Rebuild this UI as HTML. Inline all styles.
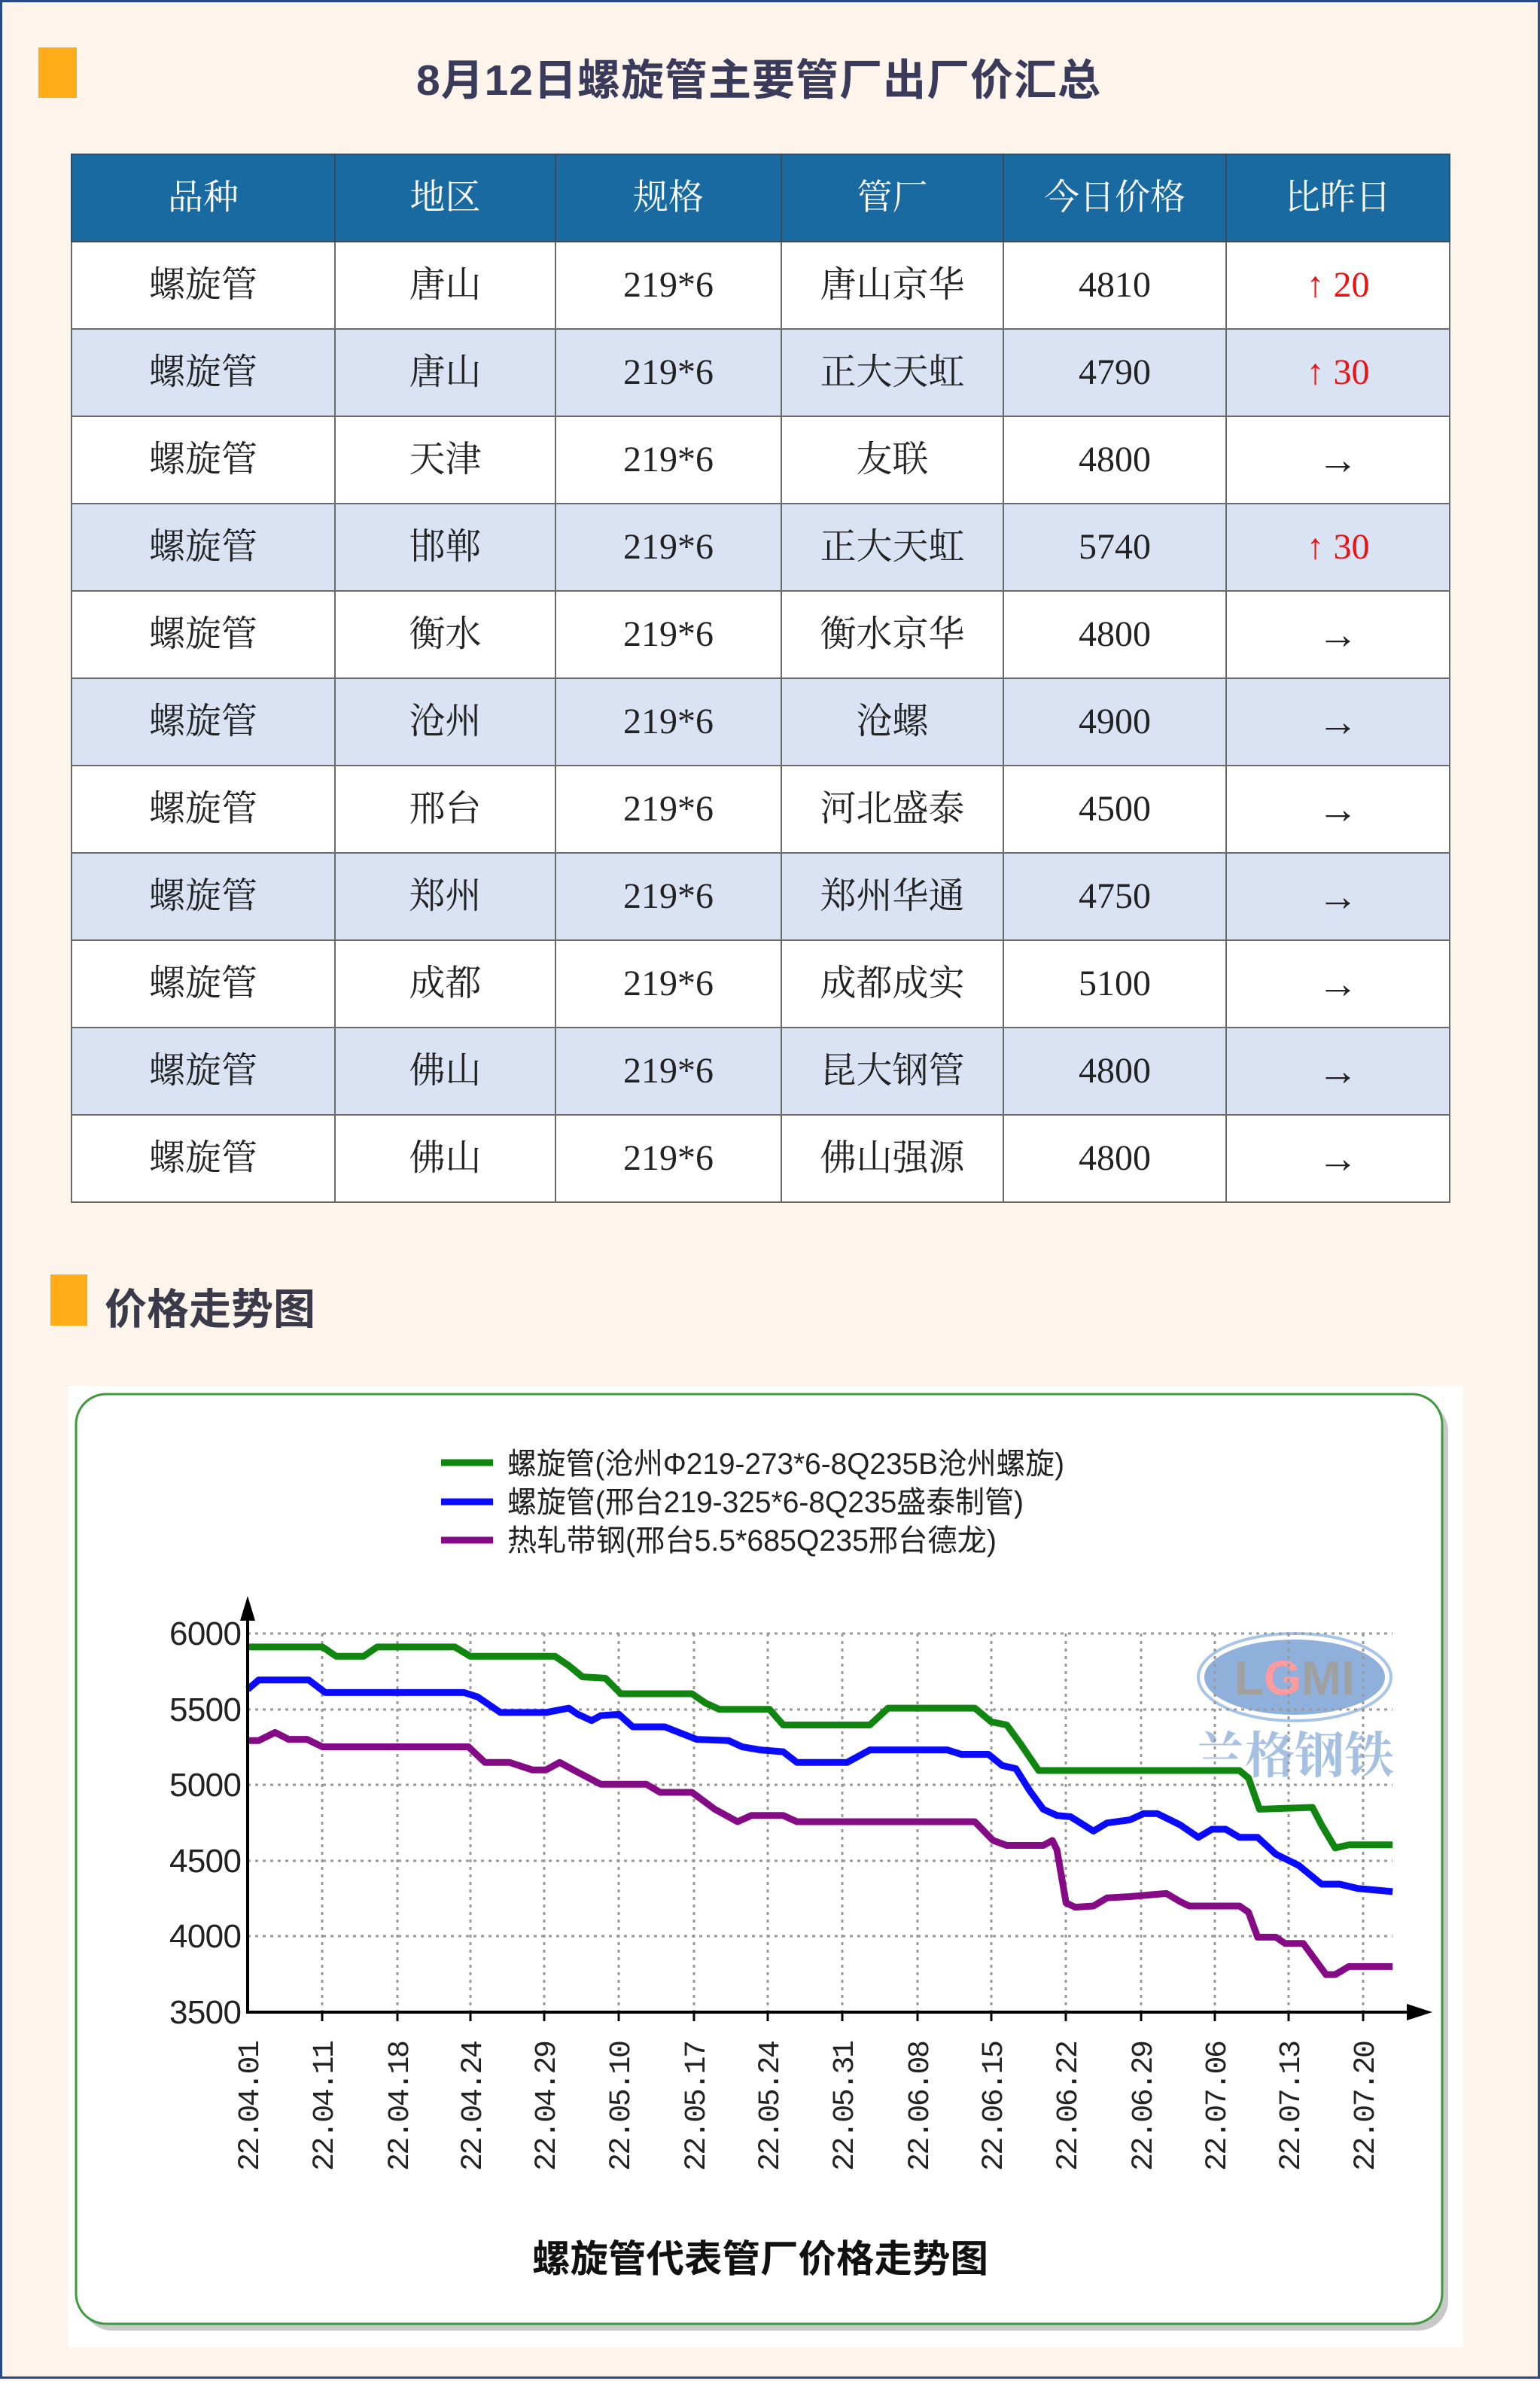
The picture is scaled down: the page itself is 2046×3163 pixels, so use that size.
<!DOCTYPE html>
<html><head><meta charset="utf-8">
<style>
html,body{margin:0;padding:0}
body{width:2046px;height:3160px;background:#fdf5eb;position:relative;overflow:hidden;box-sizing:border-box;border:3px solid #2b4a8a;font-family:"Liberation Serif","Noto Serif CJK SC",serif}
.bar{position:absolute;background:#ffac18}
.title{position:absolute;left:0;width:2010px;top:58px;text-align:center;font:bold 57px "Liberation Sans","Noto Sans CJK SC",sans-serif;color:#3a3a5a;letter-spacing:1px}
table{position:absolute;left:91px;top:201px;border-collapse:collapse;width:1831px;table-layout:fixed}
td,th{border:2px solid #6a6a6a;text-align:center;font-size:48px;line-height:1;color:#222;padding:0;font-weight:normal;overflow:hidden}
th{background:#1a6aa2;color:#fff;height:114px;border-color:#3a4a5a;font-size:47px}
td{height:114px}
tr.a td{background:#dae3f3}
tr.b td{background:#fff}
.up{color:#ee1111}
.ar{font-size:54px;font-weight:bold}
.h2{position:absolute;left:136px;top:1692px;font:bold 56px "Liberation Sans","Noto Sans CJK SC",sans-serif;color:#3a3a4a}
</style></head><body>
<div class="bar" style="left:48px;top:60px;width:51px;height:67px"></div>
<div class="title">8月12日螺旋管主要管厂出厂价汇总</div>
<table>
<colgroup><col style="width:350px"><col style="width:293px"><col style="width:300px"><col style="width:295px"><col style="width:296px"><col style="width:297px"></colgroup>
<tr><th>品种</th><th>地区</th><th>规格</th><th>管厂</th><th>今日价格</th><th>比昨日</th></tr>
<tr class="b"><td>螺旋管</td><td>唐山</td><td>219*6</td><td>唐山京华</td><td>4810</td><td class="up"><b>↑</b> 20</td></tr>
<tr class="a"><td>螺旋管</td><td>唐山</td><td>219*6</td><td>正大天虹</td><td>4790</td><td class="up"><b>↑</b> 30</td></tr>
<tr class="b"><td>螺旋管</td><td>天津</td><td>219*6</td><td>友联</td><td>4800</td><td class="ar">→</td></tr>
<tr class="a"><td>螺旋管</td><td>邯郸</td><td>219*6</td><td>正大天虹</td><td>5740</td><td class="up"><b>↑</b> 30</td></tr>
<tr class="b"><td>螺旋管</td><td>衡水</td><td>219*6</td><td>衡水京华</td><td>4800</td><td class="ar">→</td></tr>
<tr class="a"><td>螺旋管</td><td>沧州</td><td>219*6</td><td>沧螺</td><td>4900</td><td class="ar">→</td></tr>
<tr class="b"><td>螺旋管</td><td>邢台</td><td>219*6</td><td>河北盛泰</td><td>4500</td><td class="ar">→</td></tr>
<tr class="a"><td>螺旋管</td><td>郑州</td><td>219*6</td><td>郑州华通</td><td>4750</td><td class="ar">→</td></tr>
<tr class="b"><td>螺旋管</td><td>成都</td><td>219*6</td><td>成都成实</td><td>5100</td><td class="ar">→</td></tr>
<tr class="a"><td>螺旋管</td><td>佛山</td><td>219*6</td><td>昆大钢管</td><td>4800</td><td class="ar">→</td></tr>
<tr class="b"><td>螺旋管</td><td>佛山</td><td>219*6</td><td>佛山强源</td><td>4800</td><td class="ar">→</td></tr>
</table>
<div class="bar" style="left:64px;top:1690px;width:49px;height:68px"></div>
<div class="h2">价格走势图</div>

<svg style="position:absolute;left:0;top:0" width="2046" height="3160" xmlns="http://www.w3.org/2000/svg">
<rect x="87" y="1838" width="1854" height="1277" fill="#ffffff"/>
<rect x="106" y="1858" width="1815" height="1235" rx="40" fill="#c8c8c8"/>
<rect x="98" y="1849" width="1815" height="1235" rx="40" fill="#fff" stroke="#3f9a3f" stroke-width="3"/>
<ellipse cx="1717" cy="2225" rx="120" ry="50" fill="#8fb0da"/>
<ellipse cx="1717" cy="2225" rx="128" ry="58" fill="none" stroke="#a8c4e6" stroke-width="4"/>
<text x="1717" y="2248" text-anchor="middle" font-family="Liberation Sans,sans-serif" font-weight="bold" font-size="64" fill="#a0a0a0">L<tspan fill="#ff9aa0">G</tspan>MI</text>
<text x="1717" y="2352" text-anchor="middle" font-family="Liberation Sans,Noto Serif CJK SC,serif" font-size="66" fill="#8fb0da" fill-opacity="0.8" font-weight="bold">兰格钢铁</text>
<g stroke="#999" stroke-width="3" stroke-dasharray="4,6">
<line x1="326" y1="2167" x2="1847" y2="2167"/>
<line x1="326" y1="2268" x2="1847" y2="2268"/>
<line x1="326" y1="2368" x2="1847" y2="2368"/>
<line x1="326" y1="2469" x2="1847" y2="2469"/>
<line x1="326" y1="2569" x2="1847" y2="2569"/>
<line x1="425" y1="2167" x2="425" y2="2670"/><line x1="525" y1="2167" x2="525" y2="2670"/>
<line x1="622" y1="2167" x2="622" y2="2670"/><line x1="720" y1="2167" x2="720" y2="2670"/>
<line x1="819" y1="2167" x2="819" y2="2670"/><line x1="919" y1="2167" x2="919" y2="2670"/>
<line x1="1017" y1="2167" x2="1017" y2="2670"/><line x1="1116" y1="2167" x2="1116" y2="2670"/>
<line x1="1216" y1="2167" x2="1216" y2="2670"/><line x1="1314" y1="2167" x2="1314" y2="2670"/>
<line x1="1413" y1="2167" x2="1413" y2="2670"/><line x1="1513" y1="2167" x2="1513" y2="2670"/>
<line x1="1611" y1="2167" x2="1611" y2="2670"/><line x1="1709" y1="2167" x2="1709" y2="2670"/>
<line x1="1808" y1="2167" x2="1808" y2="2670"/>
</g>
<g transform="translate(80,1820) scale(1.2121,0.8292)" fill="none" stroke-width="9" stroke-linejoin="round">
<polyline vector-effect="non-scaling-stroke" stroke="#108510" points="203,440 285,440 300,455 330,455 345,440 430,440 447,455 540,455 555,470 570,488 595,490 612,515 690,515 705,530 720,540 775,540 790,565 885,565 905,538 1000,538 1018,560 1035,565 1050,595 1070,638 1290,638 1300,650 1312,700 1370,697 1380,725 1395,762 1410,757 1458,757"/>
<polyline vector-effect="non-scaling-stroke" stroke="#0a0aff" points="203,508 215,493 270,493 288,513 440,513 455,520 480,545 530,545 555,538 565,548 580,558 590,550 610,548 625,568 660,568 695,588 730,590 745,600 765,605 790,608 805,625 860,625 885,605 970,605 985,612 1015,612 1030,630 1045,635 1060,670 1075,700 1090,710 1105,712 1130,735 1145,722 1170,717 1185,707 1200,707 1225,725 1245,745 1260,732 1275,732 1290,745 1310,745 1330,772 1355,790 1380,820 1400,820 1420,827 1458,832"/>
<polyline vector-effect="non-scaling-stroke" stroke="#850a85" points="203,590 215,590 233,577 248,588 268,588 285,600 445,600 463,625 490,625 515,637 530,637 545,625 560,637 590,660 640,660 655,673 690,673 715,700 740,720 755,710 790,710 805,720 1000,720 1020,750 1035,758 1075,758 1085,750 1090,765 1100,850 1110,857 1130,855 1145,842 1170,840 1210,835 1225,848 1235,855 1290,855 1300,865 1310,905 1330,905 1340,915 1360,915 1385,965 1395,965 1410,952 1458,952"/>
</g>
<line x1="326" y1="2140" x2="326" y2="2672" stroke="#000" stroke-width="4"/>
<line x1="324" y1="2670" x2="1880" y2="2670" stroke="#000" stroke-width="4"/>
<polygon points="326,2117 316,2150 336,2150" fill="#000"/>
<polygon points="1900,2670 1866,2659 1866,2681" fill="#000"/>
<g stroke="#000" stroke-width="3">
<line x1="425" y1="2670" x2="425" y2="2682"/><line x1="525" y1="2670" x2="525" y2="2682"/><line x1="622" y1="2670" x2="622" y2="2682"/><line x1="720" y1="2670" x2="720" y2="2682"/><line x1="819" y1="2670" x2="819" y2="2682"/><line x1="919" y1="2670" x2="919" y2="2682"/><line x1="1017" y1="2670" x2="1017" y2="2682"/><line x1="1116" y1="2670" x2="1116" y2="2682"/><line x1="1216" y1="2670" x2="1216" y2="2682"/><line x1="1314" y1="2670" x2="1314" y2="2682"/><line x1="1413" y1="2670" x2="1413" y2="2682"/><line x1="1513" y1="2670" x2="1513" y2="2682"/><line x1="1611" y1="2670" x2="1611" y2="2682"/><line x1="1709" y1="2670" x2="1709" y2="2682"/><line x1="1808" y1="2670" x2="1808" y2="2682"/>
</g>
<g font-family="Liberation Sans,sans-serif" font-size="44" fill="#222" text-anchor="end">
<text x="318" y="2182" textLength="96">6000</text>
<text x="318" y="2283" textLength="96">5500</text>
<text x="318" y="2383" textLength="96">5000</text>
<text x="318" y="2484" textLength="96">4500</text>
<text x="318" y="2584" textLength="96">4000</text>
<text x="318" y="2685" textLength="96">3500</text>
</g>
<g font-family="Liberation Mono,monospace" font-size="40" fill="#222">
<text transform="translate(340,2881) rotate(-90)" textLength="174">22.04.01</text>
<text transform="translate(439,2881) rotate(-90)" textLength="174">22.04.11</text>
<text transform="translate(539,2881) rotate(-90)" textLength="174">22.04.18</text>
<text transform="translate(636,2881) rotate(-90)" textLength="174">22.04.24</text>
<text transform="translate(734,2881) rotate(-90)" textLength="174">22.04.29</text>
<text transform="translate(833,2881) rotate(-90)" textLength="174">22.05.10</text>
<text transform="translate(933,2881) rotate(-90)" textLength="174">22.05.17</text>
<text transform="translate(1031,2881) rotate(-90)" textLength="174">22.05.24</text>
<text transform="translate(1130,2881) rotate(-90)" textLength="174">22.05.31</text>
<text transform="translate(1230,2881) rotate(-90)" textLength="174">22.06.08</text>
<text transform="translate(1328,2881) rotate(-90)" textLength="174">22.06.15</text>
<text transform="translate(1427,2881) rotate(-90)" textLength="174">22.06.22</text>
<text transform="translate(1527,2881) rotate(-90)" textLength="174">22.06.29</text>
<text transform="translate(1625,2881) rotate(-90)" textLength="174">22.07.06</text>
<text transform="translate(1723,2881) rotate(-90)" textLength="174">22.07.13</text>
<text transform="translate(1822,2881) rotate(-90)" textLength="174">22.07.20</text>
</g>
<g stroke-width="9">
<line x1="583" y1="1940" x2="652" y2="1940" stroke="#108510"/>
<line x1="583" y1="1992" x2="652" y2="1992" stroke="#0a0aff"/>
<line x1="583" y1="2043" x2="652" y2="2043" stroke="#850a85"/>
</g>
<g font-family="Liberation Sans,Noto Sans CJK SC,sans-serif" font-size="40" fill="#222">
<text x="671" y="1955" textLength="740" lengthAdjust="spacingAndGlyphs">螺旋管(沧州Φ219-273*6-8Q235B沧州螺旋)</text>
<text x="671" y="2006" textLength="686" lengthAdjust="spacingAndGlyphs">螺旋管(邢台219-325*6-8Q235盛泰制管)</text>
<text x="671" y="2057" textLength="650" lengthAdjust="spacingAndGlyphs">热轧带钢(邢台5.5*685Q235邢台德龙)</text>
</g>
<text x="1007" y="3015" text-anchor="middle" font-family="Liberation Sans,Noto Sans CJK SC,sans-serif" font-weight="bold" font-size="50" fill="#111" textLength="606" lengthAdjust="spacingAndGlyphs">螺旋管代表管厂价格走势图</text>
</svg>
</body></html>
